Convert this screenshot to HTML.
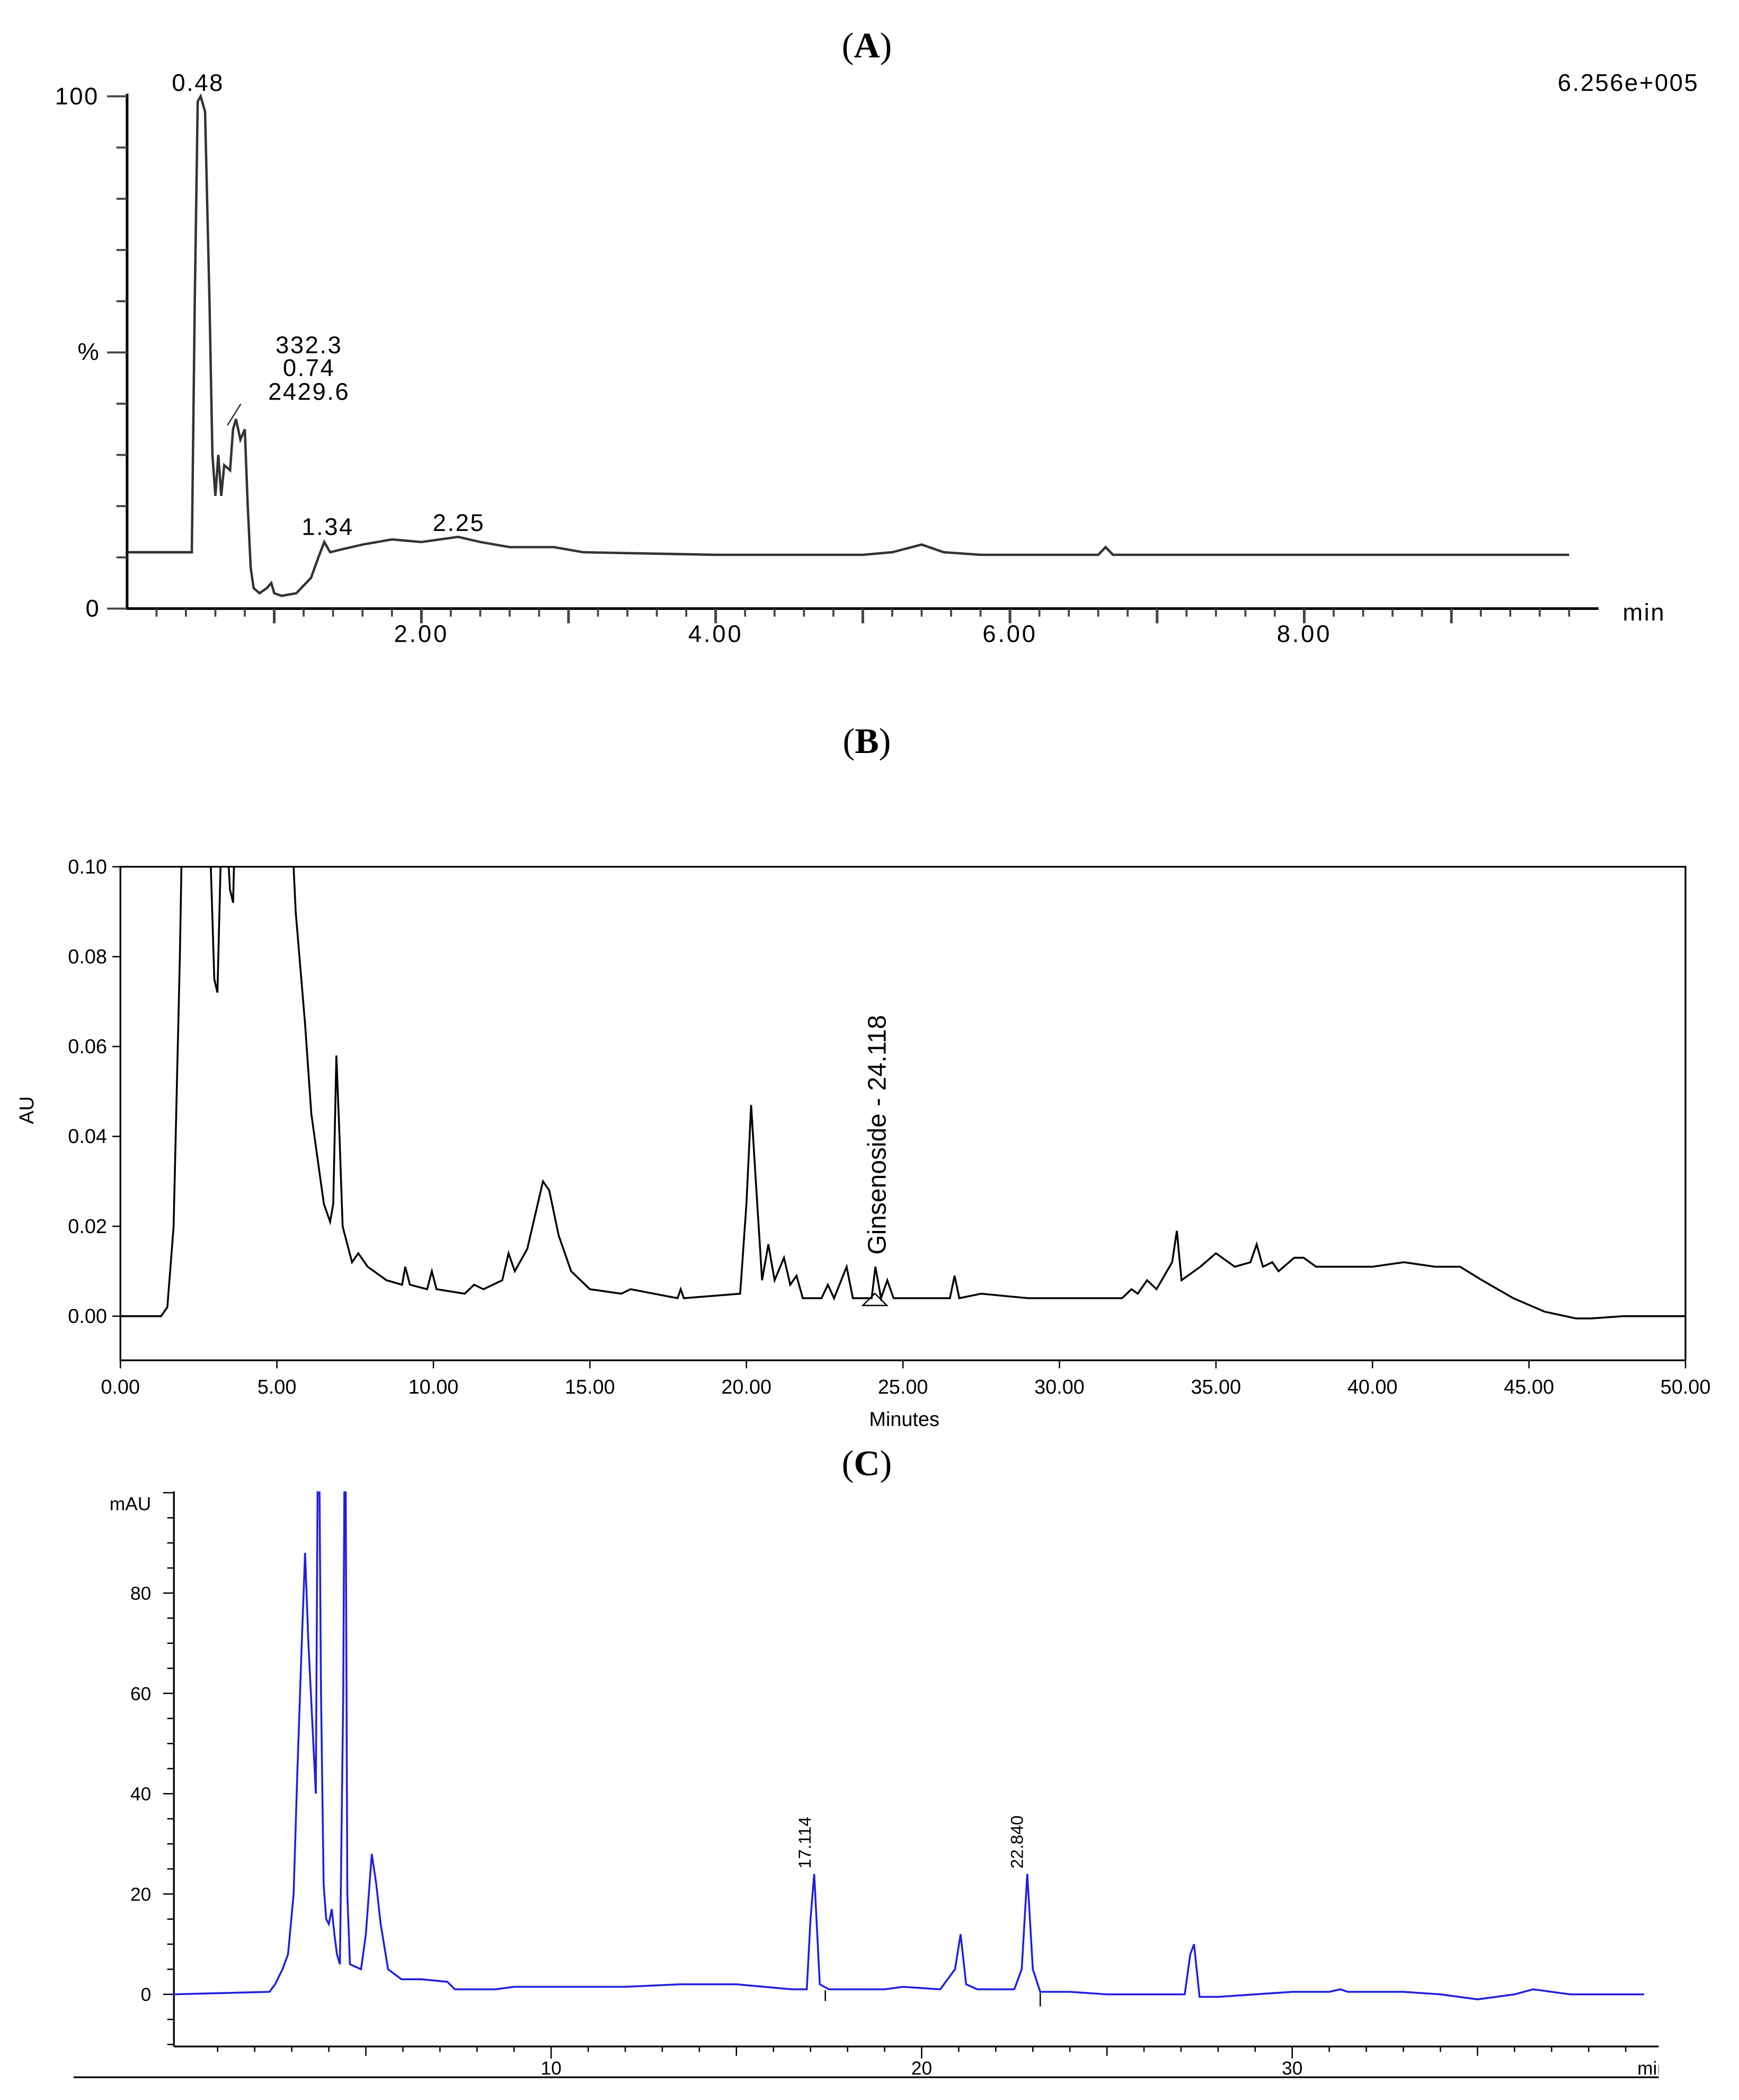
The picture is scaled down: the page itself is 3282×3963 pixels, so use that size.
<!DOCTYPE html>
<html><head><meta charset="utf-8"><style>
html,body{margin:0;padding:0;background:#fff}
svg{display:block}
text{font-family:"Liberation Sans",sans-serif}
text.ttl{font-family:"Liberation Serif",serif}
</style></head><body>
<svg id="fig" width="3282" height="3963" viewBox="0 0 1300 1570" preserveAspectRatio="none" xmlns="http://www.w3.org/2000/svg">
<rect width="1300" height="1570" fill="#fff"/>
<defs>
<clipPath id="clipB"><rect x="90" y="648" width="1170" height="369"/></clipPath>
<clipPath id="clipC"><rect x="128" y="1115" width="1112" height="415"/></clipPath>
</defs>
<g id="A"></g>
<g id="B"></g>
<g id="C"></g>
</svg>
<script>
// ---- Panel A data (time min, relative %)
const aTimes=[0,0.44,0.46,0.48,0.5,0.53,0.56,0.58,0.6,0.62,0.64,0.66,0.7,0.72,0.74,0.77,0.8,0.82,0.84,0.86,0.9,0.95,0.98,1.0,1.05,1.15,1.25,1.3,1.34,1.38,1.45,1.6,1.8,2.0,2.25,2.4,2.6,2.9,3.1,4,5,5.2,5.4,5.55,5.8,6.6,6.65,6.7,9.8];
const aValues=[11,11,60,99,100,97,60,30,22,30,22,28,27,35,37,33,35,20,8,4,3,4,5,3,2.5,3,6,10,13,11,11.5,12.5,13.5,13,14,13,12,12,11,10.5,10.5,11,12.5,11,10.5,10.5,12,10.5,10.5];
const aXTicks=[2,4,6,8];
const aXTickLabels=["2.00","4.00","6.00","8.00"];
// ---- Panel B data (time min, AU)
const bTimes=[0,1.3,1.5,1.7,1.9,2.0,2.8,3.0,3.1,3.2,3.3,3.5,3.6,3.7,5.4,5.6,5.9,6.1,6.3,6.5,6.7,6.8,6.9,7.0,7.1,7.4,7.6,7.9,8.5,9.0,9.1,9.25,9.8,9.95,10.1,11,11.3,11.6,12.2,12.4,12.6,13,13.3,13.5,13.7,14,14.4,15,16,16.3,17.8,17.9,18,19.8,20.0,20.15,20.3,20.5,20.7,20.9,21.2,21.4,21.6,21.8,22.4,22.6,22.8,23.2,23.4,24.0,24.12,24.3,24.5,24.7,26.5,26.65,26.8,27.5,29,32,32.3,32.5,32.8,33.1,33.6,33.75,33.9,34.5,35.0,35.2,35.6,36.1,36.3,36.5,36.8,37.0,37.5,37.8,38.2,40,41,42,42.8,43.5,44.5,45.5,46.5,47,48,50];
const bValues=[0,0,0.002,0.02,0.08,0.12,0.12,0.075,0.072,0.1,0.12,0.095,0.092,0.12,0.12,0.09,0.065,0.045,0.035,0.025,0.021,0.025,0.058,0.04,0.02,0.012,0.014,0.011,0.008,0.007,0.011,0.007,0.006,0.010,0.006,0.005,0.007,0.006,0.008,0.014,0.010,0.015,0.024,0.030,0.028,0.018,0.01,0.006,0.005,0.006,0.004,0.006,0.004,0.005,0.025,0.047,0.03,0.008,0.016,0.008,0.013,0.007,0.009,0.004,0.004,0.007,0.004,0.011,0.004,0.004,0.011,0.004,0.008,0.004,0.004,0.009,0.004,0.005,0.004,0.004,0.006,0.005,0.008,0.006,0.012,0.019,0.008,0.011,0.014,0.013,0.011,0.012,0.016,0.011,0.012,0.01,0.013,0.013,0.011,0.011,0.012,0.011,0.011,0.008,0.004,0.001,-0.0005,-0.0005,0,0];
const bYTicks=[0,0.02,0.04,0.06,0.08,0.10];
const bYTickLabels=["0.00","0.02","0.04","0.06","0.08","0.10"];
const bXTicks=[0,5,10,15,20,25,30,35,40,45,50];
const bXTickLabels=["0.00","5.00","10.00","15.00","20.00","25.00","30.00","35.00","40.00","45.00","50.00"];
// ---- Panel C data (time min, mAU)
const cTimes=[-0.2,2.4,2.55,2.75,2.9,3.05,3.15,3.27,3.36,3.45,3.55,3.65,3.72,3.79,3.86,3.93,4.0,4.08,4.15,4.22,4.3,4.39,4.44,4.5,4.57,4.87,5.0,5.16,5.28,5.4,5.6,5.96,6.5,7.2,7.4,8.5,9,12,13.5,15,16.5,16.9,17.0,17.1,17.25,17.5,19,19.5,20.5,20.9,21.05,21.2,21.5,22.5,22.7,22.85,23.0,23.2,24,25,27.1,27.25,27.35,27.5,28,30,31,31.3,31.5,33,34,35,36,36.5,37.5,39.5];
const cValues=[0,0.5,2,5,8,20,44,70,88,70,55,40,130,60,22,15,14,17,12,8,6,60,130,20,6,5,12,28,22,14,5,3,3,2.5,1,1,1.5,1.5,2,2,1,1,15,24,2,1,1,1.5,1,5,12,2,1,1,5,24,5,0.5,0.5,0,0,8,10,-0.5,-0.5,0.5,0.5,1,0.5,0.5,0,-1,0,1,0,0];
const cYTicks=[0,20,40,60,80];
const cYTickLabels=["0","20","40","60","80"];
const cXTicks=[10,20,30];
const cXTickLabels=["10","20","30"];

const NS="http://www.w3.org/2000/svg";
function mk(parent,tag,attrs,txt){const e=document.createElementNS(NS,tag);for(const k in attrs)e.setAttribute(k,attrs[k]);if(txt!==undefined)e.textContent=txt;parent.appendChild(e);return e;}
function path(xs,ys,fx,fy){return xs.map((t,i)=>(i?'L':'M')+fx(t).toFixed(2)+','+fy(ys[i]).toFixed(2)).join('');}

// ===== Panel A =====
const A=document.getElementById('A');
const ax=t=>95+110*t, ay=v=>455-3.83*v;
let e;
e=mk(A,'text',{x:648,y:43,'text-anchor':'middle','font-size':27,'class':'ttl'});
e.innerHTML='(<tspan font-weight="bold">A</tspan>)';

e=mk(A,'line',{x1:95,y1:70,x2:95,y2:456,stroke:'#000','stroke-width':2});

e=mk(A,'line',{x1:95,y1:455,x2:1195,y2:455,stroke:'#000','stroke-width':2});

for(let v=0;v<=100;v+=10){e=mk(A,'line',{x1:v%50===0?80:87,y1:ay(v),x2:95,y2:ay(v),stroke:'#444','stroke-width':1.5});
}
e=mk(A,'text',{x:74,y:78,'text-anchor':'end','font-size':18,'letter-spacing':1},'100');
e=mk(A,'text',{x:74,y:269,'text-anchor':'end','font-size':18},'%');
e=mk(A,'text',{x:74,y:461,'text-anchor':'end','font-size':18},'0');
for(let t=0.2;t<9.85;t+=0.2){const r=Math.round(t*5)/5;const maj=Math.abs(r-Math.round(r))<1e-6;
e=mk(A,'line',{x1:ax(r),y1:455,x2:ax(r),y2:maj?466:461,stroke:'#444','stroke-width':maj?2:1.5});
}
aXTicks.forEach((t,i)=>{e=mk(A,'text',{x:ax(t),y:480,'text-anchor':'middle','font-size':18,'letter-spacing':1.5},aXTickLabels[i]);
});
e=mk(A,'text',{x:1213,y:464,'font-size':18,'letter-spacing':1},'min');
e=mk(A,'text',{x:1270,y:68,'text-anchor':'end','font-size':18,'letter-spacing':1},'6.256e+005');
e=mk(A,'path',{d:path(aTimes,aValues,ax,ay),fill:'none',stroke:'#333','stroke-width':1.8});

[['0.48',148,68],['332.3',231,264],['0.74',231,281],['2429.6',231,299],['1.34',245,400],['2.25',343,397]].forEach(a=>{e=mk(A,'text',{x:a[1],y:a[2],'text-anchor':'middle','font-size':18,'letter-spacing':1},a[0]);
});
e=mk(A,'line',{x1:180,y1:302,x2:170,y2:318,stroke:'#333','stroke-width':1});

// ===== Panel B =====
const B=document.getElementById('B');
const bx=t=>90+23.4*t, by=v=>984-3360*v;
e=mk(B,'text',{x:648,y:563,'text-anchor':'middle','font-size':27,'class':'ttl'});
e.innerHTML='(<tspan font-weight="bold">B</tspan>)';

e=mk(B,'rect',{x:90,y:648,width:1170,height:369,fill:'none',stroke:'#000','stroke-width':1.3});

bYTicks.forEach((v,i)=>{e=mk(B,'line',{x1:84,y1:by(v),x2:90,y2:by(v),stroke:'#000'});
e=mk(B,'text',{x:80,y:by(v)+5,'text-anchor':'end','font-size':15},bYTickLabels[i]);});
bXTicks.forEach((t,i)=>{e=mk(B,'line',{x1:bx(t),y1:1017,x2:bx(t),y2:1023,stroke:'#000'});
e=mk(B,'text',{x:bx(t),y:1042,'text-anchor':'middle','font-size':15},bXTickLabels[i]);});
e=mk(B,'text',{x:676,y:1066,'text-anchor':'middle','font-size':15},'Minutes');
e=mk(B,'text',{x:25,y:830,'text-anchor':'middle','font-size':15,transform:'rotate(-90 25 830)'},'AU');
e=mk(B,'path',{d:path(bTimes,bValues,bx,by),fill:'none',stroke:'#000','stroke-width':1.4,'clip-path':'url(#clipB)'});

e=mk(B,'text',{x:0,y:0,'font-size':19,transform:'translate(662,938) rotate(-90)'},'Ginsenoside - 24.118');
e=mk(B,'path',{d:'M645,976 L663,976 L654,967 Z M645,976 L654,967',fill:'none',stroke:'#000','stroke-width':1});

// ===== Panel C =====
const C=document.getElementById('C');
const cx=t=>135+27.7*t, cy=v=>1491-3.75*v;
e=mk(C,'text',{x:648,y:1103,'text-anchor':'middle','font-size':27,'class':'ttl'});
e.innerHTML='(<tspan font-weight="bold">C</tspan>)';

e=mk(C,'line',{x1:130,y1:1115,x2:130,y2:1530,stroke:'#000','stroke-width':1.3});
e=mk(C,'line',{x1:130,y1:1530,x2:1240,y2:1530,stroke:'#000','stroke-width':1.3});
e=mk(C,'line',{x1:55,y1:1553,x2:1240,y2:1553,stroke:'#000','stroke-width':1.3});
for(let v=-10;v<=100;v+=5){e=mk(C,'line',{x1:v%20===0?122:125,y1:cy(v),x2:130,y2:cy(v),stroke:'#000'});}
cYTicks.forEach((v,i)=>{e=mk(C,'text',{x:113,y:cy(v)+5,'text-anchor':'end','font-size':14},cYTickLabels[i]);});
e=mk(C,'text',{x:113,y:1129,'text-anchor':'end','font-size':14},'mAU');
for(let t=1;t<=39;t++){e=mk(C,'line',{x1:cx(t),y1:1530,x2:cx(t),y2:t%10===0?1539:t%5===0?1537:1534,stroke:'#000'});}
cXTicks.forEach((t,i)=>{e=mk(C,'text',{x:cx(t),y:1551,'text-anchor':'middle','font-size':14},cXTickLabels[i]);});
e=mk(C,'text',{x:1224,y:1551,'font-size':14},'min');
e=mk(C,'rect',{x:1240,y:1535,width:60,height:17,fill:'#fff'});
e=mk(C,'path',{d:path(cTimes,cValues,cx,cy),fill:'none',stroke:'#1f1fe0','stroke-width':1.4,'clip-path':'url(#clipC)'});

[['17.114',17.114],['22.840',22.84]].forEach(a=>{const X=cx(a[1])-3;e=mk(C,'text',{x:0,y:0,'font-size':13,transform:`translate(${X},1397) rotate(-90)`},a[0]);
});
e=mk(C,'line',{x1:cx(17.4),y1:1488,x2:cx(17.4),y2:1496,stroke:'#000'});
e=mk(C,'line',{x1:cx(23.2),y1:1490,x2:cx(23.2),y2:1500,stroke:'#000'});
</script>
</body></html>
